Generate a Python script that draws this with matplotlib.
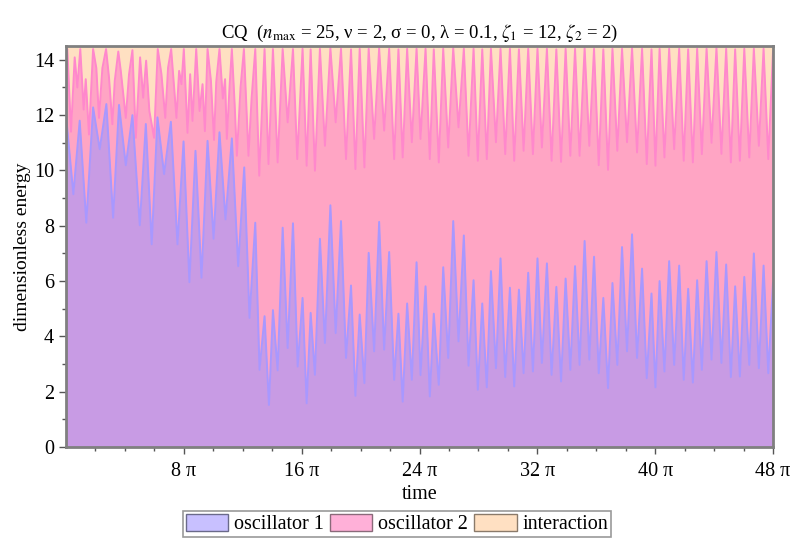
import matplotlib
matplotlib.use("Agg")
import matplotlib.pyplot as plt
from matplotlib.patches import Patch

plt.rcParams['font.family'] = ['Liberation Serif', 'DejaVu Serif']
plt.rcParams['mathtext.fontset'] = 'stix'

# time in units of pi, energy dimensionless
t_osc1 = [0.0, 0.50, 0.93, 1.38, 1.84, 2.29, 2.74, 3.20, 3.60, 4.06, 4.51, 5.01,
          5.42, 5.82, 6.21, 6.66, 7.12, 7.57, 7.98,
          8.38, 8.79, 9.20, 9.61, 10.02, 10.42, 10.83, 11.26, 11.69, 12.10, 12.46,
          12.85, 13.14, 13.48, 13.78, 14.05, 14.37, 14.71, 15.05, 15.41, 15.73,
          16.06, 16.34, 16.61, 16.90, 17.24, 17.58, 17.95, 18.31, 18.67, 19.01,
          19.35, 19.65, 19.94, 20.26, 20.55, 20.92, 21.26, 21.60, 21.94, 22.28,
          22.57, 22.86, 23.16, 23.48, 23.80, 24.07,
          24.41, 24.70, 24.97, 25.31, 25.61, 25.95, 26.29, 26.65, 27.01, 27.33,
          27.67, 27.96, 28.26, 28.57, 28.85, 29.19, 29.50, 29.82, 30.14, 30.43,
          30.75, 31.07, 31.38, 31.70, 32.01,
          32.31, 32.65, 32.97, 33.29, 33.61, 33.92, 34.24, 34.56, 34.87, 35.21,
          35.53, 35.85, 36.17, 36.48, 36.80, 37.10, 37.43, 37.75, 38.09, 38.43,
          38.77, 39.11, 39.43, 39.75, 40.02, 40.30,
          40.63, 40.95, 41.29, 41.63, 41.94, 42.24, 42.56, 42.85, 43.17, 43.49,
          43.83, 44.16, 44.50, 44.82, 45.14, 45.43, 45.75, 46.05, 46.39, 46.70,
          47.04, 47.36, 47.68, 48.0]
e_osc1 = [12.0, 9.14, 11.8, 8.11, 12.28, 10.77, 12.4, 8.29, 12.37, 10.19, 12.0, 8.02,
          11.68, 7.33, 11.92, 9.87, 11.76, 7.33, 11.05,
          5.96, 10.71, 6.12, 11.07, 7.53, 11.38, 8.23, 11.16, 6.54, 10.11, 4.67,
          8.11, 2.79, 4.73, 1.52, 4.95, 2.77, 7.93, 3.58, 8.09, 2.91,
          5.39, 1.58, 4.85, 2.61, 7.53, 3.76, 8.74, 4.12, 8.17, 3.22,
          5.84, 1.85, 4.79, 2.31, 7.02, 3.46, 8.14, 3.52, 7.05, 2.43,
          4.82, 1.64, 5.19, 2.43, 6.68, 2.6,
          5.81, 1.83, 4.82, 2.25, 6.5, 3.22, 8.17, 3.82, 7.65, 2.94,
          6.03, 2.07, 5.19, 2.16, 6.36, 2.85, 6.82, 2.53, 5.76, 2.19,
          5.69, 2.67, 6.3, 2.73, 6.82,
          3.04, 6.64, 2.61, 5.79, 2.37, 6.09, 2.79, 6.54, 2.97, 7.45,
          3.16, 6.88, 2.67, 5.39, 2.13, 5.93, 2.97, 7.23, 3.46, 7.69,
          3.22, 6.45, 2.49, 5.55, 2.16, 6.0,
          2.73, 6.72, 2.97, 6.56, 2.43, 5.72, 2.33, 6.03, 2.79, 6.72,
          3.16, 7.05, 3.04, 6.6, 2.53, 5.81, 2.55, 6.15, 2.97, 7.0,
          2.85, 6.56, 2.67, 5.94]

# upper edge of oscillator 2 band (oscillator 1 + oscillator 2)
t_osc12_early = [0.0, 0.09, 0.34, 0.59, 0.77, 0.97, 1.2, 1.34, 1.56, 1.84, 2.06,
                 2.24, 2.47, 2.72, 2.92, 3.15, 3.31, 3.55, 3.72, 4.06, 4.28, 4.51,
                 4.74, 5.03, 5.24, 5.44, 5.66, 5.98, 6.23, 6.48, 6.74, 6.93, 7.14,
                 7.39, 7.5, 7.68, 7.84, 8.0, 8.25, 8.43, 8.59, 8.84, 9.07, 9.27,
                 9.43, 9.61, 9.84, 10.05, 10.2, 10.42, 10.65, 10.8, 10.92, 11.1,
                 11.26, 11.45, 11.6, 11.85, 12.08, 12.39, 12.6, 12.85, 13.12, 13.48,
                 13.75, 14.05, 14.37, 14.71, 15.05, 15.41, 15.7]
e_osc12_early = [14.3, 14.39, 11.4, 14.09, 13.0, 14.39, 12.2, 13.3, 11.3, 14.39, 13.7,
                 11.9, 13.7, 14.39, 13.36, 11.67, 13.24, 14.3, 13.6, 11.9, 13.48, 14.35,
                 11.18, 14.09, 12.63, 13.97, 12.15, 11.18, 14.39, 13.48, 11.9, 13.72, 14.39,
                 12.63, 11.9, 13.6, 13.12, 14.39, 11.36, 13.48, 11.79, 14.39, 12.15, 13.12,
                 11.42, 14.39, 13.24, 11.1, 13.2, 14.39, 12.6, 13.3, 11.14, 13.0,
                 14.39, 12.4, 10.53, 13.0, 14.39, 10.53, 12.6, 14.39, 9.81, 14.39,
                 10.23, 14.39, 10.29, 14.39, 11.74, 14.39, 10.41]
e_osc12_late = [14.4, 10.17, 14.38, 9.99, 14.4, 10.89, 14.42, 11.74, 14.4, 10.41,
                14.38, 10.05, 14.4, 10.11, 14.4, 11.14, 14.42, 11.44, 14.4, 10.41,
                14.38, 10.47, 14.4, 11.02, 14.4, 11.14,
                14.4, 10.41, 14.38, 10.29, 14.4, 10.83, 14.42, 11.56, 14.4, 10.53,
                14.4, 10.35, 14.38, 10.41, 14.4, 11.02, 14.4, 10.59, 14.4, 10.35,
                14.38, 10.71, 14.4, 10.59, 14.4,
                10.83, 14.4, 10.35, 14.38, 10.31, 14.4, 10.53, 14.4, 10.53, 14.42,
                10.89, 14.4, 10.19, 14.38, 10.02, 14.4, 10.71, 14.4, 11.02, 14.42,
                10.65, 14.4, 10.23, 14.38, 10.17, 14.4,
                10.47, 14.4, 10.77, 14.4, 10.35, 14.38, 10.29, 14.4, 10.59, 14.4,
                11.0, 14.42, 10.6, 14.4, 10.29, 14.38, 10.35, 14.4, 10.47, 14.4,
                10.89, 14.4, 10.41, 14.3]
e_total = 14.5

t_osc12 = t_osc12_early + t_osc1[len(t_osc1) - len(e_osc12_late):]
e_osc12 = e_osc12_early + e_osc12_late

xticks = [8, 16, 24, 32, 40, 48]
xlabels = ['%d π' % v for v in xticks]
legend_labels = ['oscillator 1', 'oscillator 2', 'interaction']

c_fill1, c_line1 = '#C89BE4', '#A898FF'
c_fill2, c_line2 = '#FFA5C4', '#FF88CC'
c_fill3 = '#FFE0C2'

fig = plt.figure(figsize=(8, 5.5), dpi=100)
ax = fig.add_axes([66/800, 1 - 447/550, 707/800, 401/550])

ax.fill_between([0, 48], 0, e_total, color=c_fill3, lw=0, zorder=1)
ax.fill_between(t_osc12, 0, e_osc12, color=c_fill2, lw=0, zorder=2)
ax.plot(t_osc12, e_osc12, color=c_line2, lw=1.4, zorder=3)
ax.fill_between(t_osc1, 0, e_osc1, color=c_fill1, lw=0, zorder=4)
ax.plot(t_osc1, e_osc1, color=c_line1, lw=1.4, zorder=5)

ax.set_xlim(0, 48)
ax.set_ylim(0, e_total)
ax.set_xticks(xticks)
ax.set_xticklabels(xlabels)
ax.set_xticks(range(2, 48, 2), minor=True)
ax.set_yticks(range(0, 15, 2))
ax.set_yticks(range(1, 15, 2), minor=True)
ax.tick_params(which='both', direction='out', colors='#555555', labelcolor='black',
               labelsize=14.5, width=1)
ax.tick_params(axis='x', pad=6)
ax.tick_params(which='major', length=5)
ax.tick_params(which='minor', length=3)
for s in ax.spines.values():
    s.set_color('#808080')
    s.set_linewidth(2)
    s.set_zorder(10)

ax.set_xlabel('time', fontsize=14.5, labelpad=3)
ax.set_ylabel('dimensionless energy', fontsize=14, labelpad=2)
ax.set_title(r'CQ  ($n_{\mathrm{max}}$ = 25, ν = 2, σ = 0, λ = 0.1, $\zeta_1$ = 12, $\zeta_2$ = 2)',
             fontsize=13.5, pad=6)

handles = [Patch(facecolor='#C8C0FF', edgecolor='#6a6a8a', lw=1),
           Patch(facecolor='#FFB0D8', edgecolor='#8a6a7a', lw=1),
           Patch(facecolor='#FFE0C2', edgecolor='#8a7a6a', lw=1)]
leg = fig.legend(handles, legend_labels, loc='center', bbox_to_anchor=(397/800, 1 - 524/550),
                 ncol=3, fontsize=14.5, frameon=True, fancybox=False, handlelength=2.1,
                 handleheight=0.9, handletextpad=0.3, columnspacing=0.3, borderpad=0.15,
                 borderaxespad=0)
leg.get_frame().set_edgecolor('#808080')
leg.get_frame().set_linewidth(1.2)

fig.savefig('out.png', dpi=100)
